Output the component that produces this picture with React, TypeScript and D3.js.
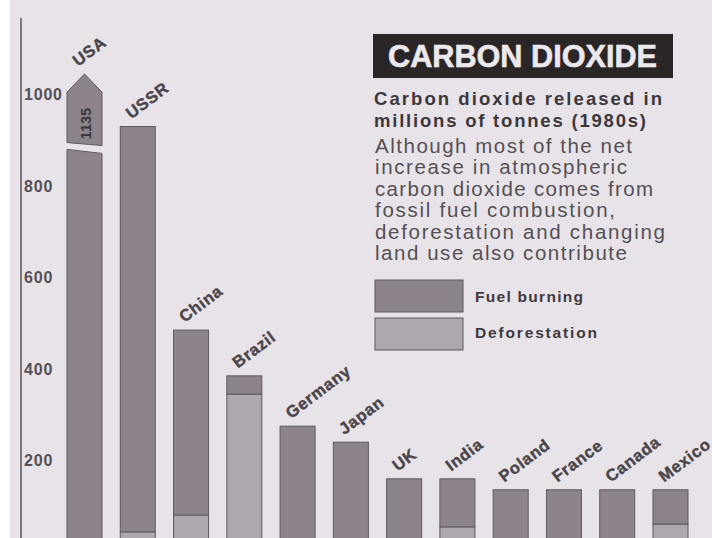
import React from "react";
import * as d3 from "d3";

// Carbon dioxide released in the 1980s, millions of tonnes
const countries = ["USA", "USSR", "China", "Brazil", "Germany", "Japan", "UK", "India", "Poland", "France", "Canada", "Mexico"];
const fuelBurning = [1135, 886, 404, 40, 275, 240, 160, 105, 136, 136, 136, 75];
const deforestation = [0, 44, 81, 345, 0, 0, 0, 55, 0, 0, 0, 61];
const yTicks = [200, 400, 600, 800, 1000];

const titleText = "CARBON DIOXIDE";
const subtitleLines = ["Carbon dioxide released in", "millions of tonnes (1980s)"];
const bodyLines = [
  "Although most of the net",
  "increase in atmospheric",
  "carbon dioxide comes from",
  "fossil fuel combustion,",
  "deforestation and changing",
  "land use also contribute",
];
const bodyWidths = [257, 252, 278, 240, 290, 252];
const legendItems = ["Fuel burning", "Deforestation"];

const W = 712;
const H = 538;

const PAPER = "#e8e3e8";
const FUEL = "#8c838b";
const DEFOR = "#aea7ae";
const EDGE = "#5e585e";
const INK = "#4a454a";

// values above the axis top are drawn as a broken bar with an arrow cap
const AXIS_TOP = 1000;
const BREAK_LOW = 880;
const BREAK_HIGH = 895;
const CAP_SHOULDER = 1005;
const CAP_TIP = 1045;

export default function App() {
  const x = d3
    .scaleBand<string>()
    .domain(countries)
    .range([67, 688])
    .paddingInner(0.343)
    .paddingOuter(0);
  const y = d3.scaleLinear().domain([0, 1000]).range([552, 94.5]);
  const bw = x.bandwidth();

  const stacked = countries.map((c, i) => ({
    c,
    fuel: fuelBurning[i],
    defor: deforestation[i],
    total: fuelBurning[i] + deforestation[i],
  }));

  const fontSans = "'Liberation Sans', Arial, Helvetica, sans-serif";

  return (
    <svg
      width={W}
      height={H}
      style={{ position: "absolute", left: 0, top: 0, display: "block" }}
      fontFamily={fontSans}
    >
      <rect x={0} y={0} width={W} height={H} fill="#ffffff" />
      <rect x={10} y={0} width={W - 10} height={H} fill={PAPER} />

      {/* vertical axis */}
      <line x1={21} x2={21} y1={18} y2={H} stroke="#595459" strokeWidth={1.5} />
      {yTicks.map((t) => (
        <text
          key={t}
          x={24}
          y={y(t)}
          dy="0.36em"
          fontSize={16}
          fontWeight="bold"
          fill="#555055"
          letterSpacing={0.8}
        >
          {t}
        </text>
      ))}

      {/* bars */}
      {stacked.map((d) => {
        const x0 = x(d.c)!;
        const labelTop = d.total > AXIS_TOP ? y(CAP_TIP) : y(d.total);
        let bar: React.ReactNode;
        if (d.total > AXIS_TOP) {
          const lower = d3.path();
          lower.moveTo(x0, y(0) + 20);
          lower.lineTo(x0, y(BREAK_LOW));
          lower.lineTo(x0 + bw, y(BREAK_LOW) + 4);
          lower.lineTo(x0 + bw, y(0) + 20);
          lower.closePath();
          const upper = d3.path();
          upper.moveTo(x0, y(BREAK_HIGH));
          upper.lineTo(x0, y(CAP_SHOULDER));
          upper.lineTo(x0 + bw / 2, y(CAP_TIP));
          upper.lineTo(x0 + bw, y(CAP_SHOULDER));
          upper.lineTo(x0 + bw, y(BREAK_HIGH) + 3);
          upper.closePath();
          const midY = (y(BREAK_HIGH) + y(CAP_SHOULDER)) / 2 + 6;
          bar = (
            <g>
              <path d={lower.toString()} fill={FUEL} stroke={EDGE} strokeWidth={1} />
              <path d={upper.toString()} fill={FUEL} stroke={EDGE} strokeWidth={1} />
              <text
                transform={`translate(${x0 + bw / 2 + 1},${midY}) rotate(-90)`}
                textAnchor="middle"
                dy="0.36em"
                fontSize={14}
                fontWeight="bold"
                fill="#3a363a"
                letterSpacing={0.3}
              >
                {d.total}
              </text>
            </g>
          );
        } else {
          bar = (
            <g>
              {d.defor > 0 && (
                <rect
                  x={x0}
                  y={y(d.defor)}
                  width={bw}
                  height={y(0) - y(d.defor) + 20}
                  fill={DEFOR}
                  stroke={EDGE}
                  strokeWidth={1}
                />
              )}
              <rect
                x={x0}
                y={y(d.total)}
                width={bw}
                height={y(d.defor) - y(d.total) + (d.defor > 0 ? 0 : 20)}
                fill={FUEL}
                stroke={EDGE}
                strokeWidth={1}
              />
            </g>
          );
        }
        return (
          <g key={d.c}>
            {bar}
            <text
              transform={`translate(${x0 + 11},${labelTop - 7}) rotate(-37)`}
              fontSize={16.5}
              fontWeight="bold"
              fill={INK}
              stroke={INK}
              strokeWidth={0.4}
              letterSpacing={0.7}
            >
              {d.c}
            </text>
          </g>
        );
      })}

      {/* title block */}
      <rect x={373} y={34} width={300} height={44} fill="#2a2628" />
      <text
        x={388}
        y={67}
        fontSize={32}
        fontWeight="bold"
        fill="#ece8ec"
        stroke="#ece8ec"
        strokeWidth={0.6}
        textLength={269}
        lengthAdjust="spacingAndGlyphs"
      >
        {titleText}
      </text>
      {subtitleLines.map((s, i) => (
        <text
          key={s}
          x={374}
          y={105 + i * 21.7}
          fontSize={18.5}
          fontWeight="bold"
          fill="#3c383c"
          textLength={i === 0 ? 288 : 272}
          lengthAdjust="spacing"
        >
          {s}
        </text>
      ))}
      {bodyLines.map((s, i) => (
        <text
          key={s}
          x={375}
          y={153 + i * 21.4}
          fontSize={20.5}
          fill="#545054"
          textLength={bodyWidths[i]}
          lengthAdjust="spacing"
        >
          {s}
        </text>
      ))}

      {/* legend */}
      {legendItems.map((s, i) => (
        <g key={s}>
          <rect
            x={375}
            y={280 + i * 38}
            width={88}
            height={32}
            fill={i === 0 ? FUEL : DEFOR}
            stroke={EDGE}
            strokeWidth={1}
          />
          <text
            x={475}
            y={301.5 + i * 36.5}
            fontSize={15.5}
            fontWeight="bold"
            fill="#3f3a3f"
            textLength={i === 0 ? 108 : 122}
            lengthAdjust="spacing"
          >
            {s}
          </text>
        </g>
      ))}
    </svg>
  );
}
